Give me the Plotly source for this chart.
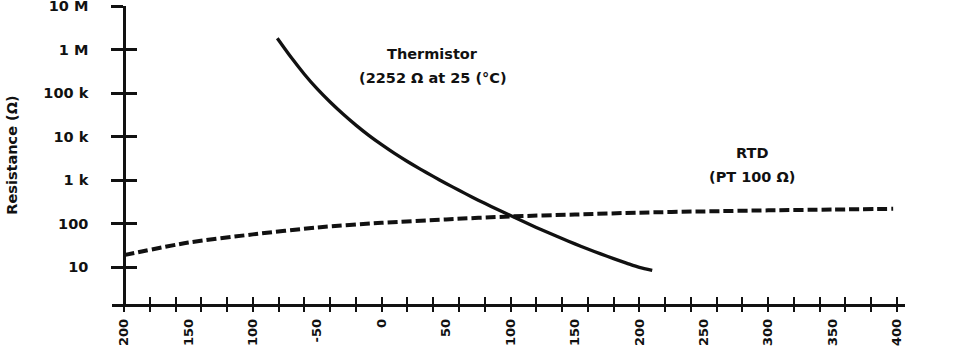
import plotly.graph_objects as go

# ---- data ----
therm_temp = [-81, -70, -60, -50, -40, -30, -20, -10, 0, 10, 20, 30, 40, 50, 60, 70, 80, 90,
              100, 110, 120, 130, 140, 150, 160, 170, 180, 190, 200, 210]
therm_res = [1.82e6, 6.46e5, 2.72e5, 1.245e5, 6.24e4, 3.31e4, 1.84e4, 1.07e4, 6530, 4120,
             2690, 1800, 1222, 841, 586, 413, 294, 212, 154, 112, 82.4, 61.1, 45.7, 34.5,
             26.3, 20.3, 15.8, 12.5, 9.95, 8.5]

rtd_temp = [-200, -150, -100, -50, 0, 50, 100, 150, 200, 250, 300, 350, 397]
rtd_res = [19, 37, 57, 82, 105, 126, 147, 163, 180, 192, 203, 212, 220]

x_tick_vals = [-200, -150, -100, -50, 0, 50, 100, 150, 200, 250, 300, 350, 400]
x_tick_text = ["200", "150", "100", "-50", "0", "50", "100", "150", "200", "250", "300", "350", "400"]
y_tick_vals = [10, 100, 1e3, 1e4, 1e5, 1e6, 1e7]
y_tick_text = ["10", "100", "1 k", "10 k", "100 k", "1 M", "10 M"]

x_range = [-209.3, 406.2]
y_range = [0.157, 7.0005]
INK = "#111111"
FONT = "DejaVu Sans"

fig = go.Figure()
fig.add_trace(go.Scatter(x=rtd_temp, y=rtd_res, mode="lines",
                         line=dict(color=INK, width=4, dash="10px,4px", shape="spline", smoothing=0.8),
                         showlegend=False, hoverinfo="skip"))
fig.add_trace(go.Scatter(x=therm_temp, y=therm_res, mode="lines",
                         line=dict(color=INK, width=3.3, shape="spline", smoothing=0.8),
                         showlegend=False, hoverinfo="skip"))
# dummy traces so overlay axes render
fig.add_trace(go.Scatter(x=[None], y=[None], xaxis="x2", yaxis="y", showlegend=False))
fig.add_trace(go.Scatter(x=[None], y=[None], xaxis="x3", yaxis="y", showlegend=False))
fig.add_trace(go.Scatter(x=[None], y=[None], xaxis="x", yaxis="y2", showlegend=False))

ypos = (x_tick_vals[0] - x_range[0]) / (x_range[1] - x_range[0])

fig.update_layout(
    width=963, height=346,
    margin=dict(l=112, r=58, t=6, b=42, autoexpand=False),
    paper_bgcolor="white", plot_bgcolor="white",
    font=dict(family=FONT, color=INK),
    xaxis=dict(range=x_range, tickmode="array", tickvals=x_tick_vals, ticktext=x_tick_text,
               tickangle=-90, ticks="", showgrid=False, zeroline=False, automargin=False,
               showline=True, linecolor=INK, linewidth=2.5, ticklabeloverflow="allow",
               tickfont=dict(family=FONT, size=13, weight="bold", color=INK),
               ticklabelstandoff=7),
    xaxis2=dict(range=x_range, overlaying="x", anchor="y", side="bottom", automargin=False,
                tick0=-200, dtick=20, ticks="outside", ticklen=7, tickwidth=2, tickcolor=INK,
                showticklabels=False, showgrid=False, zeroline=False, showline=False),
    xaxis3=dict(range=x_range, overlaying="x", anchor="y", side="bottom", automargin=False,
                tick0=-200, dtick=20, ticks="inside", ticklen=7, tickwidth=2, tickcolor=INK,
                showticklabels=False, showgrid=False, zeroline=False, showline=False),
    yaxis=dict(type="log", range=y_range, tickmode="array", tickvals=y_tick_vals,
               ticktext=y_tick_text, ticks="outside", ticklen=12, tickwidth=2.5, tickcolor=INK,
               anchor="free", position=ypos, side="left", automargin=False,
               showgrid=False, zeroline=False, showline=True, linecolor=INK, linewidth=2.5,
               ticklabeloverflow="allow",
               tickfont=dict(family=FONT, size=14.5, weight="bold", color=INK),
               ticklabelstandoff=20,
               title=dict(text="Resistance (Ω)", font=dict(family=FONT, size=14.5, weight="bold", color=INK),
                          standoff=21)),
    yaxis2=dict(type="log", range=y_range, overlaying="y", anchor="free", position=ypos, side="left",
                automargin=False,
                tickmode="array", tickvals=y_tick_vals, ticks="inside", ticklen=12, tickwidth=2.5,
                tickcolor=INK, showticklabels=False, showgrid=False, zeroline=False, showline=False),
)

ann_font = dict(family=FONT, size=14.5, weight="bold", color=INK)
annotations = [
    ("Thermistor", 39.5, 5.898),
    ("(2252 Ω at 25 (°C)", 39.5, 5.347),
    ("RTD", 287.5, 3.618),
    ("(PT 100 Ω)", 287.5, 3.080),
]
for text, ax_, ay_ in annotations:
    fig.add_annotation(text=text, x=ax_, y=ay_, xref="x", yref="y", showarrow=False,
                       font=ann_font, xanchor="center", yanchor="middle")

fig.write_html("out.html")
